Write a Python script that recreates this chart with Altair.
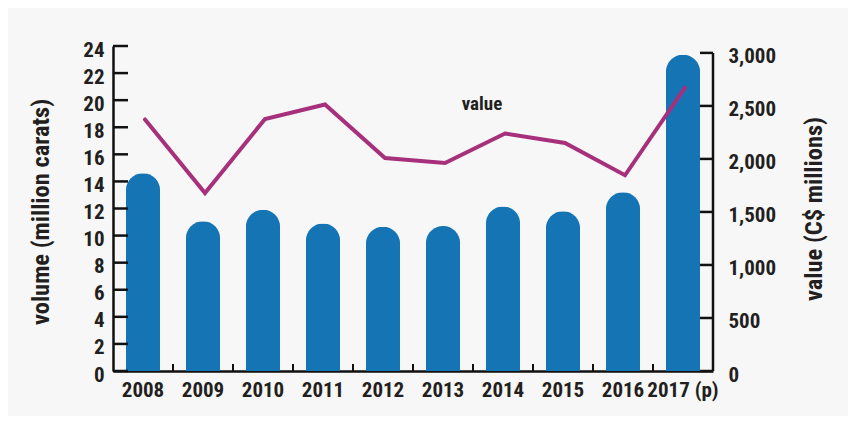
import altair as alt
import pandas as pd

FONT = "Roboto Condensed, Roboto, sans-serif"
INK = "#231f20"

years = ["2008", "2009", "2010", "2011", "2012", "2013", "2014", "2015", "2016", "2017 (p)"]
volume = [14.6, 11.05, 11.9, 10.9, 10.65, 10.7, 12.15, 11.8, 13.2, 23.35]
value = [2372, 1679, 2377, 2513, 2009, 1962, 2240, 2151, 1846, 2673]
vol_ticks = [0, 2, 4, 6, 8, 10, 12, 14, 16, 18, 20, 22, 24]
val_ticks = [0, 500, 1000, 1500, 2000, 2500, 3000]
val_axis_span = [{"value": 0, "hi": 3000}]

W, H = 600, 325

df = pd.DataFrame({"year": years, "volume": volume, "value": value})

xscale = alt.Scale(paddingInner=0.43, paddingOuter=0.215)

x_main = alt.X(
    "year:N", sort=None, title=None, scale=xscale,
    axis=alt.Axis(labelAngle=0, ticks=False, tickSize=0, labelPadding=8,
                  domainColor="#111", domainWidth=2.5, title=None, labelOverlap=False),
)

vol_scale = alt.Scale(domain=[0, 24], nice=False)
vol_axis = alt.Axis(
    values=vol_ticks, tickCount=13, title="volume (million carats)", ticks=False, tickSize=0,
    grid=False, labelPadding=9, labelOffset=4, domainColor="#111", domainWidth=2.5,
    labelOverlap=False, titleAngle=270, titleX=-72, titleY=H / 2 + 3,
    titleAlign="center", titleBaseline="middle",
)

val_scale = alt.Scale(domain=[0, 3065], nice=False)
val_axis = alt.Axis(
    orient="right", values=val_ticks, format=",.0f", title="value (C$ millions)",
    ticks=False, tickSize=0, grid=False, domain=False, labelPadding=15,
    labelOffset=4, labelOverlap=False, titleAngle=270, titleX=101, titleY=H / 2,
    titleAlign="center", titleBaseline="middle",
)

bars = alt.Chart(df).mark_bar(
    color="#1474b4", cornerRadiusTopLeft=17, cornerRadiusTopRight=17
).encode(x=x_main, y=alt.Y("volume:Q", scale=vol_scale, axis=vol_axis))

left_ticks = alt.Chart(pd.DataFrame({"volume": vol_ticks})).mark_rule(
    color="#111", strokeWidth=2.5
).encode(y=alt.Y("volume:Q", scale=vol_scale, axis=vol_axis), x=alt.value(0), x2=alt.value(15))

x_ticks = alt.Chart(df).mark_rule(color="#111", strokeWidth=2, xOffset=30).encode(
    x=x_main, y=alt.value(H), y2=alt.value(H - 7)
)

left = alt.layer(bars, left_ticks, x_ticks)

line = alt.Chart(df).mark_line(
    color="#a7307c", strokeWidth=4, strokeCap="round", xOffset=2
).encode(x=x_main, y=alt.Y("value:Q", scale=val_scale, axis=val_axis))

right_ticks = alt.Chart(pd.DataFrame({"value": val_ticks})).mark_rule(
    color="#111", strokeWidth=2.5
).encode(y=alt.Y("value:Q", scale=val_scale, axis=val_axis), x=alt.value(W - 13), x2=alt.value(W))

right_axis_line = alt.Chart(pd.DataFrame(val_axis_span)).mark_rule(
    color="#111", strokeWidth=2.5
).encode(y=alt.Y("value:Q", scale=val_scale, axis=val_axis), y2="hi:Q", x=alt.value(W))

label = alt.Chart(pd.DataFrame({"label": ["value"]})).mark_text(
    font=FONT, fontSize=19, fontWeight="bold", color=INK
).encode(text="label:N", x=alt.value(369), y=alt.value(58))

right = alt.layer(line, right_ticks, right_axis_line, label)

chart = alt.layer(left, right).resolve_scale(y="independent").properties(
    width=W, height=H,
    autosize=alt.AutoSizeParams(type="none"),
    padding={"left": 105, "top": 38, "right": 135, "bottom": 45},
).configure(background="#f7f7f7").configure_view(stroke=None).configure_axis(
    labelFont=FONT, labelFontSize=21, labelFontWeight="bold", labelColor=INK,
    titleFont=FONT, titleFontSize=24.5, titleFontWeight="bold", titleColor=INK,
)

chart.save("out.html", embed_options={"renderer": "svg", "actions": False})
